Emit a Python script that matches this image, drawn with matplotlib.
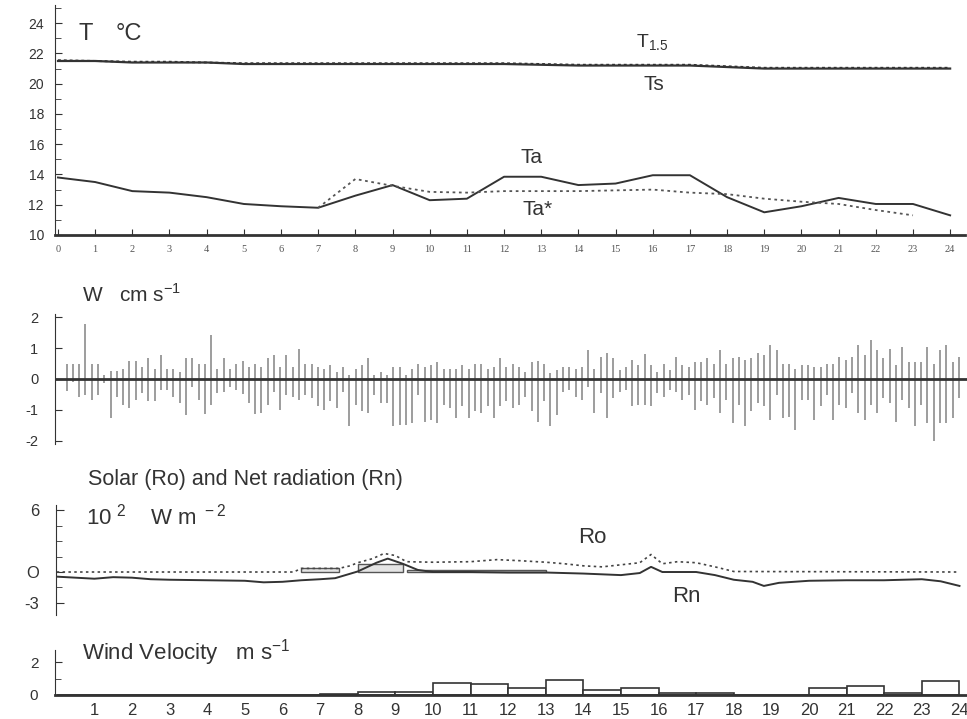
import numpy as np
import matplotlib
matplotlib.use("Agg")
import matplotlib.pyplot as plt

plt.rcParams['font.family'] = ['Liberation Sans', 'DejaVu Sans']
plt.rcParams['mathtext.fontset'] = 'custom'
plt.rcParams['mathtext.rm'] = 'Liberation Sans'
plt.rcParams['axes.unicode_minus'] = False

INK = '#333333'

# ---------------- temperatures (hourly, deg C) ----------------
hours = list(range(25))
ts = [21.5, 21.5, 21.4, 21.4, 21.4, 21.3, 21.3, 21.3, 21.3, 21.3, 21.3, 21.3, 21.3,
      21.25, 21.2, 21.2, 21.2, 21.2, 21.1, 21.0, 21.0, 21.0, 21.0, 21.0, 21.0]
t15 = [21.55, 21.5, 21.45, 21.45, 21.4, 21.35, 21.35, 21.35, 21.35, 21.35, 21.35, 21.35, 21.35,
       21.3, 21.25, 21.25, 21.25, 21.25, 21.15, 21.05, 21.05, 21.05, 21.05, 21.05, 21.05]
ta = [13.8, 13.5, 12.9, 12.8, 12.5, 12.05, 11.9, 11.8, 12.6, 13.3, 12.3, 12.4, 13.85,
      13.85, 13.3, 13.4, 13.95, 13.95, 12.5, 11.5, 11.9, 12.45, 12.05, 12.05, 11.3]
ta_star_hours = list(range(7, 24))
ta_star = [11.8, 13.7, 13.25, 12.85, 12.8, 12.9, 12.9, 12.9, 12.95, 13.0, 12.8, 12.7,
           12.4, 12.2, 12.05, 11.65, 11.3]

# ---------------- vertical velocity W, 10-minute ranges (cm/s) ----------------
w_hi = [0.5, 0.5, 0.5, 1.77, 0.5, 0.5, 0.13, 0.26, 0.26, 0.34, 0.58, 0.58, 0.4, 0.67, 0.34,
        0.77, 0.34, 0.34, 0.24, 0.67, 0.67, 0.5, 0.5, 1.42, 0.34, 0.67, 0.34, 0.5, 0.58, 0.4,
        0.5, 0.4, 0.67, 0.77,
        0.4, 0.77, 0.4, 0.99, 0.5, 0.5, 0.4, 0.34, 0.45, 0.24, 0.4, 0.13, 0.34, 0.45, 0.67,
        0.13, 0.24, 0.13, 0.4, 0.4, 0.13, 0.34, 0.5, 0.4, 0.45, 0.56, 0.34, 0.34, 0.34, 0.45,
        0.34, 0.5, 0.5, 0.34, 0.4, 0.67,
        0.4, 0.5, 0.4, 0.24, 0.56, 0.58, 0.5, 0.18, 0.29, 0.4, 0.4, 0.34, 0.4, 0.94, 0.34,
        0.72, 0.83, 0.67, 0.29, 0.4, 0.61, 0.45, 0.8, 0.45, 0.24, 0.5, 0.29, 0.72, 0.47, 0.4,
        0.56, 0.56, 0.67, 0.5, 0.94, 0.5,
        0.67, 0.72, 0.61, 0.69, 0.83, 0.77, 1.1, 0.94, 0.5, 0.5, 0.34, 0.45, 0.45, 0.4, 0.4,
        0.5, 0.5, 0.72, 0.61, 0.72, 1.1, 0.77, 1.26, 0.94, 0.67, 0.99, 0.47, 1.04, 0.56, 0.56,
        0.56, 1.04, 0.5, 0.94, 1.1, 0.56, 0.72]
w_lo = [-0.39, -0.1, -0.57, -0.52, -0.68, -0.52, -0.14, -1.27, -0.57, -0.84, -0.95, -0.68,
        -0.46, -0.73, -0.73, -0.35, -0.35, -0.57, -0.78, -1.16, -0.25, -0.68, -1.14, -0.84,
        -0.46, -0.41, -0.25, -0.35, -0.49, -0.78, -1.14, -1.1, -0.84, -0.41,
        -1.0, -0.52, -0.57, -0.68, -0.52, -0.62, -0.89, -1.0, -0.73, -0.95, -0.41, -1.54,
        -0.84, -1.05, -1.1, -0.52, -0.78, -0.78, -1.54, -1.48, -1.48, -1.43, -0.52, -1.38,
        -1.32, -1.43, -0.84, -0.95, -1.27, -0.89, -1.27, -1.05, -1.1, -0.89, -1.27, -0.89,
        -0.73, -0.95, -0.84, -0.57, -1.05, -1.38, -0.73, -1.54, -1.16, -0.41, -0.35, -0.57,
        -0.68, -0.25, -1.1, -0.46, -1.27, -0.62, -0.41, -0.35, -0.89, -0.84, -0.84, -0.89,
        -0.46, -0.57, -0.35, -0.41, -0.68, -0.52, -1.0, -0.73, -0.84, -0.62, -1.1, -0.68,
        -1.43, -0.84, -1.54, -1.05, -0.78, -0.89, -1.32, -0.52, -1.27, -1.22, -1.65, -0.68,
        -0.68, -1.32, -0.89, -0.52, -1.32, -0.84, -0.95, -0.46, -1.1, -1.32, -0.84, -1.1,
        -0.62, -0.78, -1.38, -0.68, -0.95, -1.54, -0.84, -1.43, -2.02, -1.43, -1.43, -1.27,
        -0.62]
w_time = np.arange(1, len(w_hi) + 1) / 6.0

# ---------------- radiation (10^2 W/m2) ----------------
ro_time = [0, 6.3, 6.5, 7.5, 7.8, 8.0, 8.4, 8.7, 9.0, 9.3, 10, 11, 11.7, 12.3, 13, 13.5, 14,
           14.5, 15, 15.5, 15.8, 16.1, 16.5, 17, 17.5, 18, 24]
ro = [0, 0, 0.35, 0.35, 0.6, 0.9, 1.3, 1.8, 1.6, 1.0, 0.95, 1.0, 1.2, 1.1, 0.95, 0.8, 0.6,
      0.5, 0.7, 0.9, 1.7, 0.8, 1.0, 0.9, 0.5, 0.05, 0]
rn_time = [0, 1, 1.5, 2, 2.5, 3, 4, 5, 5.5, 6, 6.5, 7, 7.4, 8, 8.5, 8.8, 9.2, 9.6, 10, 11, 12,
           13, 14, 15, 15.5, 15.8, 16.1, 17, 17.5, 18, 18.5, 18.8, 19.2, 20, 21, 22, 23, 23.5, 24]
rn = [-0.45, -0.65, -0.5, -0.55, -0.7, -0.75, -0.8, -0.85, -1.0, -0.95, -0.8, -0.7, -0.6,
      0.05, 0.9, 1.3, 0.8, 0.2, 0.0, 0.0, -0.05, -0.05, -0.15, -0.3, -0.1, 0.5, 0.0, 0.0,
      -0.3, -0.75, -0.95, -1.35, -1.05, -0.85, -0.8, -0.8, -0.7, -0.9, -1.35]
sun_start = [6.5, 8.0, 9.3]
sun_width = [1.0, 1.2, 3.7]
sun_height = [0.35, 0.8, 0.2]

# ---------------- wind velocity (hourly, m/s) ----------------
wind_hours = list(range(24))
wind = [0, 0, 0, 0, 0, 0, 0, 0.05, 0.2, 0.2, 0.7, 0.65, 0.45, 0.9, 0.3, 0.45, 0.15, 0.1,
        0.03, 0.03, 0.45, 0.55, 0.15, 0.85]

W, H = 967, 719
fig = plt.figure(figsize=(W / 100, H / 100), dpi=100)


def box(x0, y_top, x1, y_bot):
    return [x0 / W, 1 - y_bot / H, (x1 - x0) / W, (y_bot - y_top) / H]


def strip(ax):
    for s in ['top', 'right']:
        ax.spines[s].set_visible(False)
    ax.patch.set_alpha(0)


# -------------------------------
# 1. TEMPERATURE
# -------------------------------
ax1 = fig.add_axes(box(55, 5, 965, 235))
strip(ax1)
ax1.plot(hours, ts, color=INK, lw=1.6)
ax1.plot(hours, t15, color=INK, lw=1.4, ls=(0, (1.5, 1.5)))
ax1.plot(hours, ta, color=INK, lw=1.4)
ax1.plot(ta_star_hours, ta_star, color='#555555', lw=1.3, ls=(0, (1.5, 2)))
ax1.set_xlim(-0.08, 24.4)
ax1.set_ylim(10, 25.2)
ax1.set_yticks(range(10, 25, 2))
ax1.set_yticks(range(10, 26), minor=True)
ax1.set_xticks(hours)
ax1.set_xticklabels([str(h) for h in hours], family='Liberation Serif', fontsize=7.5,
                    color='#555555')
ax1.tick_params(axis='y', direction='in', length=5, labelsize=10, colors=INK, pad=8)
ax1.tick_params(axis='y', which='minor', direction='in', length=4, color=INK)
ax1.tick_params(axis='x', direction='in', length=4, pad=7, color=INK)
ax1.spines['left'].set_color(INK)
ax1.spines['bottom'].set_color(INK)
ax1.spines['bottom'].set_linewidth(2)
ax1.text(0.55, 23.3, 'T', fontsize=17, color=INK, va='center')
ax1.text(1.55, 23.3, '°C', fontsize=17, color=INK, va='center')
ax1.text(15.55, 22.7, r'T$_{\mathregular{1.5}}$', fontsize=14, color=INK, va='center')
ax1.text(15.75, 19.95, 'Ts', fontsize=15, color=INK, va='center')
ax1.text(12.45, 15.1, 'Ta', fontsize=15, color=INK, va='center')
ax1.text(12.5, 11.7, 'Ta*', fontsize=15, color=INK, va='center')

# -------------------------------
# 2. VERTICAL VELOCITY
# -------------------------------
ax2 = fig.add_axes(box(55, 314, 967, 444))
strip(ax2)
ax2.vlines(w_time, w_lo, w_hi, color='#8c8c8c', lw=1.2)
ax2.axhline(0, color=INK, lw=2)
ax2.set_xlim(-0.14, 24.05)
ax2.set_ylim(-2.11, 2.11)
ax2.spines['bottom'].set_visible(False)
ax2.spines['left'].set_color(INK)
ax2.set_xticks([])
ax2.set_yticks([-2, -1, 0, 1, 2])
ax2.tick_params(axis='y', direction='in', length=5, labelsize=10.5, colors=INK, pad=12)
fig.text(82 / W, 1 - 294 / H, r'W   cm s$^{\mathregular{-1}}$', fontsize=15, color=INK,
         va='center')

# -------------------------------
# 3. RADIATION
# -------------------------------
ax3 = fig.add_axes(box(56, 505, 967, 615))
strip(ax3)
ax3.bar(sun_start, sun_height, width=sun_width, align='edge', facecolor='#e4e4e4',
        edgecolor='#555555', lw=1)
ax3.plot(ro_time, ro, color='#444444', lw=1.2, ls=(0, (1.5, 2)))
ax3.plot(rn_time, rn, color=INK, lw=1.4)
ax3.set_xlim(-0.02, 24.2)
ax3.set_ylim(-4.17, 6.5)
ax3.spines['bottom'].set_visible(False)
ax3.spines['left'].set_color(INK)
ax3.set_xticks([])
ax3.set_yticks([6, 0, -3])
ax3.set_yticklabels(['6', 'O', '-3'])
ax3.set_yticks(np.arange(-3, 6.1, 1.5), minor=True)
ax3.tick_params(axis='y', direction='in', length=6, labelsize=12, colors=INK, pad=12)
ax3.tick_params(axis='y', which='minor', direction='in', length=4, color=INK)
ax3.text(14.25, 3.3, 'Ro', fontsize=16, color=INK, ha='center', va='center')
ax3.text(16.75, -2.35, 'Rn', fontsize=16, color=INK, ha='center', va='center')
fig.text(88 / W, 1 - 480 / H, 'Solar (Ro) and Net radiation (Rn)', fontsize=15.5,
         color=INK, va='center')
fig.text(86 / W, 1 - 517 / H,
         r'10$^{\mathregular{\ 2}}$    W m$^{\mathregular{\ -2}}$', fontsize=16,
         color=INK, va='center')

# -------------------------------
# 4. WIND VELOCITY
# -------------------------------
ax4 = fig.add_axes(box(55, 650, 967, 695))
strip(ax4)
ax4.bar(wind_hours, wind, width=1, align='edge', facecolor='white', edgecolor=INK, lw=1.2)
ax4.set_xlim(-0.05, 24.2)
ax4.set_ylim(0, 2.73)
ax4.spines['left'].set_color(INK)
ax4.spines['bottom'].set_color(INK)
ax4.spines['bottom'].set_linewidth(2)
ax4.set_yticks([0, 2])
ax4.set_yticks([1], minor=True)
ax4.set_xticks(range(1, 25))
ax4.tick_params(axis='x', length=0, labelsize=12, colors=INK, pad=6)
ax4.tick_params(axis='y', direction='in', length=5, labelsize=11, colors=INK, pad=12)
ax4.tick_params(axis='y', which='minor', direction='in', length=4, color=INK)
fig.text(82 / W, 1 - 653 / H, r'Wind Velocity   m s$^{\mathregular{-1}}$', fontsize=16,
         color=INK, va='center')

fig.savefig('out.png', dpi=100, facecolor='white')
